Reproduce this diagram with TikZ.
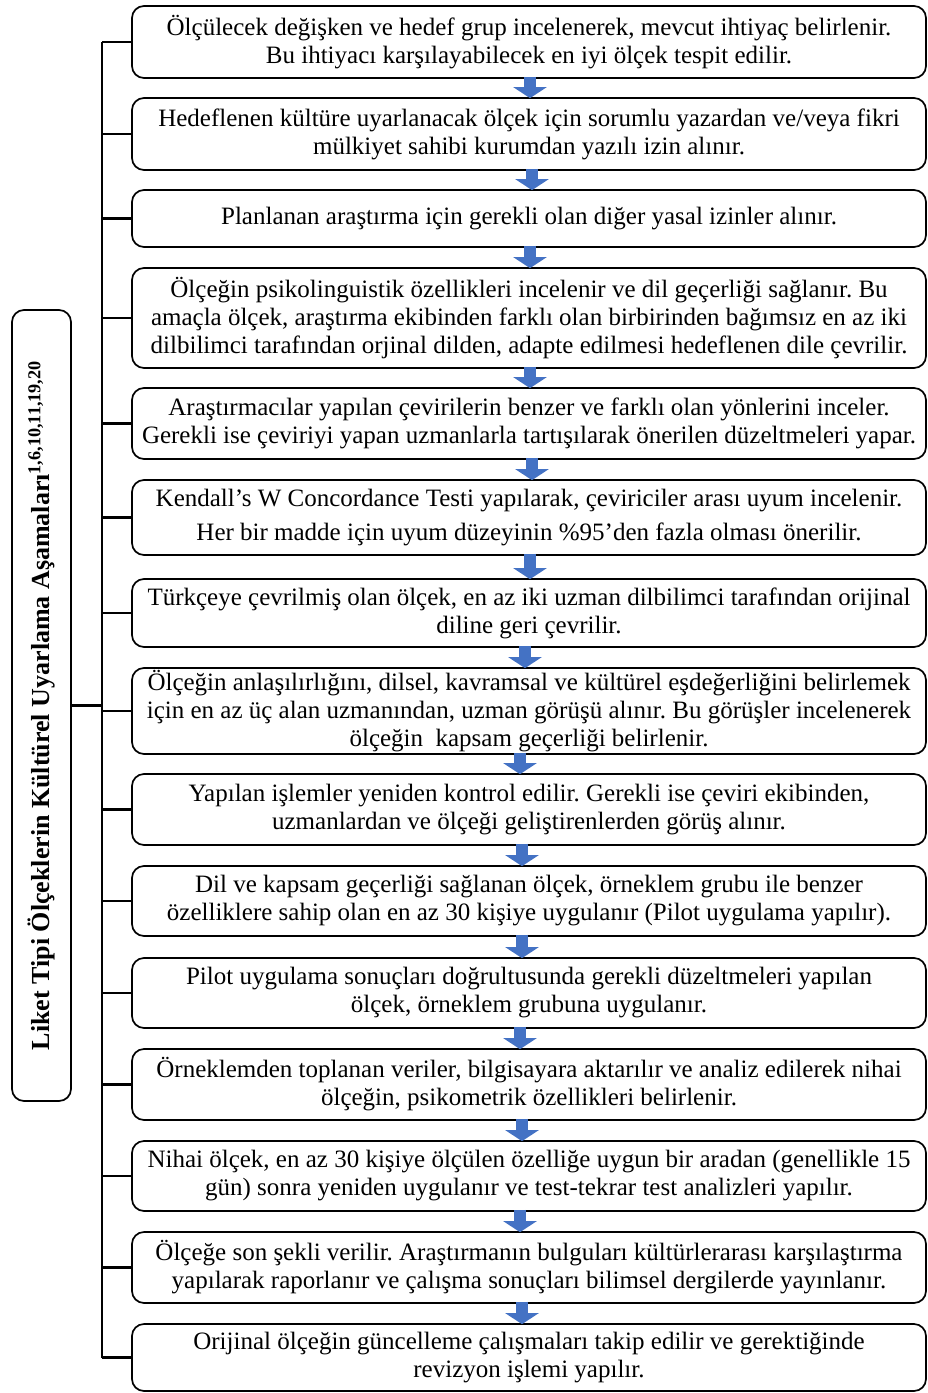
\documentclass[tikz,border=0pt]{standalone}
\usepackage{fontspec}
\setmainfont{Liberation Serif}
\usetikzlibrary{arrows.meta}
\frenchspacing

\definecolor{arrowblue}{RGB}{68,114,196}

\tikzset{
  stepbox/.style={draw, line width=1.7pt, rounded corners=12pt, minimum width=794pt,
    align=center, inner sep=0pt, font=\fontsize{25}{28}\selectfont},
  titlebox/.style={draw, line width=1.7pt, rounded corners=12pt, inner sep=0pt,
    font=\fontsize{26}{28}\selectfont\bfseries},
  link/.style={line width=2.4pt},
  flowarrow/.style={arrowblue, line width=12pt, -{Triangle[width=33pt,length=11pt]}}
}

\begin{document}
\begin{tikzpicture}[x=1pt,y=-1pt]

\useasboundingbox (0,0) rectangle (928,1393);

\node[stepbox, minimum height=72] (s1) at (529,42)
  {Ölçülecek değişken ve hedef grup incelenerek, mevcut ihtiyaç belirlenir.\\
   Bu ihtiyacı karşılayabilecek en iyi ölçek tespit edilir.};
\node[stepbox, minimum height=72] (s2) at (529,134)
  {Hedeflenen kültüre uyarlanacak ölçek için sorumlu yazardan ve/veya fikri\\
   mülkiyet sahibi kurumdan yazılı izin alınır.};
\node[stepbox, minimum height=57] (s3) at (529,218.5)
  {Planlanan araştırma için gerekli olan diğer yasal izinler alınır.};
\node[stepbox, minimum height=100] (s4) at (529,318)
  {Ölçeğin psikolinguistik özellikleri incelenir ve dil geçerliği sağlanır. Bu\\
   amaçla ölçek, araştırma ekibinden farklı olan birbirinden bağımsız en az iki\\
   dilbilimci tarafından orjinal dilden, adapte edilmesi hedeflenen dile çevrilir.};
\node[stepbox, minimum height=71] (s5) at (529,423.5)
  {Araştırmacılar yapılan çevirilerin benzer ve farklı olan yönlerini inceler.\\
   Gerekli ise çeviriyi yapan uzmanlarla tartışılarak önerilen düzeltmeleri yapar.};
\node[stepbox, minimum height=75] (s6) at (529,517.5)
  {Kendall’s W Concordance Testi yapılarak, çeviriciler arası uyum incelenir.\\[6pt]
   Her bir madde için uyum düzeyinin \%95’den fazla olması önerilir.};
\node[stepbox, minimum height=68] (s7) at (529,613)
  {Türkçeye çevrilmiş olan ölçek, en az iki uzman dilbilimci tarafından orijinal\\
   diline geri çevrilir.};
\node[stepbox, minimum height=86] (s8) at (529,711)
  {Ölçeğin anlaşılırlığını, dilsel, kavramsal ve kültürel eşdeğerliğini belirlemek\\
   için en az üç alan uzmanından, uzman görüşü alınır. Bu görüşler incelenerek\\
   ölçeğin\ \ kapsam geçerliği belirlenir.};
\node[stepbox, minimum height=71] (s9) at (529,809.5)
  {Yapılan işlemler yeniden kontrol edilir. Gerekli ise çeviri ekibinden,\\
   uzmanlardan ve ölçeği geliştirenlerden görüş alınır.};
\node[stepbox, minimum height=70] (s10) at (529,901)
  {Dil ve kapsam geçerliği sağlanan ölçek, örneklem grubu ile benzer\\
   özelliklere sahip olan en az 30 kişiye uygulanır (Pilot uygulama yapılır).};
\node[stepbox, minimum height=70] (s11) at (529,993)
  {Pilot uygulama sonuçları doğrultusunda gerekli düzeltmeleri yapılan\\
   ölçek, örneklem grubuna uygulanır.};
\node[stepbox, minimum height=71] (s12) at (529,1084.5)
  {Örneklemden toplanan veriler, bilgisayara aktarılır ve analiz edilerek nihai\\
   ölçeğin, psikometrik özellikleri belirlenir.};
\node[stepbox, minimum height=70] (s13) at (529,1176)
  {Nihai ölçek, en az 30 kişiye ölçülen özelliğe uygun bir aradan (genellikle 15\\
   gün) sonra yeniden uygulanır ve test-tekrar test analizleri yapılır.};
\node[stepbox, minimum height=71] (s14) at (529,1267.5)
  {Ölçeğe son şekli verilir. Araştırmanın bulguları kültürlerarası karşılaştırma\\
   yapılarak raporlanır ve çalışma sonuçları bilimsel dergilerde yayınlanır.};
\node[stepbox, minimum height=67] (s15) at (529,1357.5)
  {Orijinal ölçeğin güncelleme çalışmaları takip edilir ve gerektiğinde\\
   revizyon işlemi yapılır.};

\node[titlebox, rotate=90, minimum width=791, minimum height=59] (title) at (41.5,705.5)
  {Liket Tipi Ölçeklerin Kültürel Uyarlama Aşamaları\textsuperscript{1,6,10,11,19,20}};

% tree lines
\coordinate (trunk) at (102,0);
\draw[link] (s1.west -| trunk) -- (s15.west -| trunk);
\foreach \i in {1,...,15}
  \draw[link] (s\i.west) -- (s\i.west -| trunk);
\draw[link] (title.south) -- (title.south -| trunk);

% blue arrows
\foreach \i/\j/\dx in {1/2/1, 2/3/3, 3/4/1, 4/5/1, 5/6/3, 6/7/1, 7/8/-4,
                       8/9/-9, 9/10/-7, 10/11/-7, 11/12/-9, 12/13/-7, 13/14/-9, 14/15/-7}
  \draw[flowarrow] ([xshift=\dx pt, yshift=2pt]s\i.south) -- ([xshift=\dx pt, yshift=-1pt]s\j.north);

\end{tikzpicture}
\end{document}
